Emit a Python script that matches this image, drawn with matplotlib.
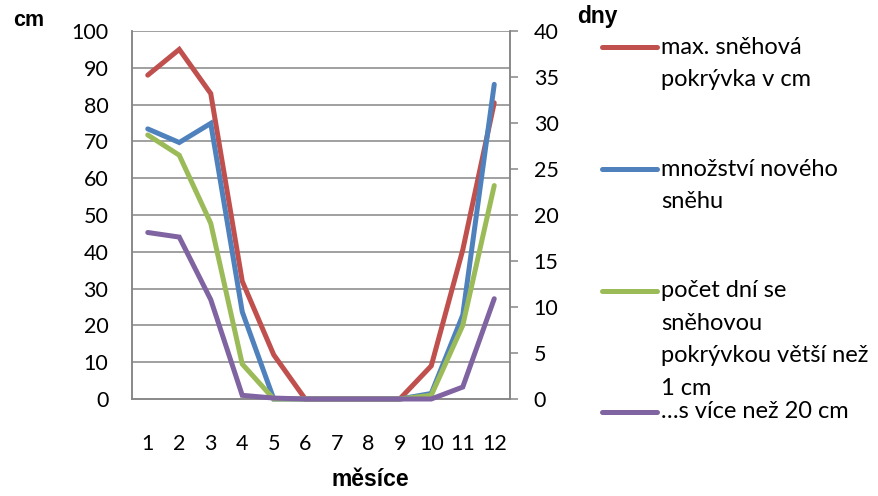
import matplotlib
matplotlib.use("Agg")
import matplotlib.pyplot as plt
from matplotlib.lines import Line2D

months = [1, 2, 3, 4, 5, 6, 7, 8, 9, 10, 11, 12]
max_snow_cm = [88, 95, 83, 32, 12, 0, 0, 0, 0, 9, 40.5, 80.5]
new_snow_cm = [73.4, 69.7, 74.9, 23.7, 0, 0, 0, 0, 0, 1.5, 22.8, 85.5]
days_over_1cm = [28.7, 26.5, 19.1, 3.8, 0, 0, 0, 0, 0, 0.4, 8.0, 23.2]
days_over_20cm = [18.1, 17.6, 10.8, 0.4, 0.1, 0, 0, 0, 0, 0, 1.3, 10.9]

labels = ["max. sněhová\npokrývka v cm",
          "množství nového\nsněhu",
          "počet dní se\nsněhovou\npokrývkou větší než\n1 cm",
          "…s více než 20 cm"]
colors = ["#C0504D", "#4F81BD", "#9BBB59", "#8064A2"]

left_ticks = list(range(0, 101, 10))
right_ticks = list(range(0, 41, 5))

W, H = 879, 496
fig = plt.figure(figsize=(W / 100, H / 100), dpi=100)
ax = fig.add_axes([132 / W, 1 - 399 / H, (510 - 132) / W, (399 - 31) / H])
ax2 = ax.twinx()

grid_c = "#868686"
lw = 3.6
font = "Lato"
tick_fs = 15.5

ax.plot(months, max_snow_cm, color=colors[0], lw=lw, solid_capstyle="round",
        solid_joinstyle="miter", clip_on=False, zorder=3)
ax.plot(months, new_snow_cm, color=colors[1], lw=lw, solid_capstyle="round",
        solid_joinstyle="miter", clip_on=False, zorder=4)
ax2.plot(months, days_over_1cm, color=colors[2], lw=lw, solid_capstyle="round",
         solid_joinstyle="miter", clip_on=False, zorder=3)
ax2.plot(months, days_over_20cm, color=colors[3], lw=lw, solid_capstyle="round",
         solid_joinstyle="miter", clip_on=False, zorder=4)

ax.set_xlim(0.5, 12.5)
ax.set_ylim(0, 100)
ax2.set_ylim(0, 40)
ax.set_xticks(months)
ax.set_xticklabels([str(m) for m in months], fontfamily=font, fontsize=tick_fs)
ax.set_yticks(left_ticks)
ax.set_yticklabels([str(v) for v in left_ticks], fontfamily=font, fontsize=tick_fs)
ax2.set_yticks(right_ticks)
ax2.set_yticklabels([str(v) for v in right_ticks], fontfamily=font, fontsize=tick_fs)

ax.tick_params(axis="x", length=0, pad=25)
ax.tick_params(axis="y", length=0, pad=17)
ax2.tick_params(axis="y", length=6, width=1.1, color=grid_c, pad=11, direction="out")

for y in left_ticks[1:]:
    ax.axhline(y, color=grid_c, lw=1.1, zorder=0)

for a in (ax, ax2):
    a.spines["top"].set_visible(False)
    for s in ("left", "right", "bottom"):
        a.spines[s].set_color(grid_c)
        a.spines[s].set_linewidth(1.1)
ax.patch.set_visible(False)

# axis titles
fig.text(13 / W, 1 - 20 / H, "cm", fontfamily="Liberation Sans", fontweight="bold",
         fontsize=15.5, va="center", ha="left")
fig.text(577 / W, 1 - 17 / H, "dny", fontfamily="Liberation Sans", fontweight="bold",
         fontsize=16.5, va="center", ha="left")
fig.text(370 / W, 1 - 480 / H, "měsíce", fontfamily="Liberation Sans", fontweight="bold",
         fontsize=16.5, va="center", ha="center")

# legend
entry_y = [47, 169, 290.5, 412]
line_gap = 32.7
for lab, c, y0 in zip(labels, colors, entry_y):
    fig.add_artist(Line2D([602 / W, 657 / W], [1 - y0 / H, 1 - y0 / H], color=c,
                          lw=3.6, solid_capstyle="round", transform=fig.transFigure))
    for k, line in enumerate(lab.split("\n")):
        fig.text(661 / W, 1 - (y0 + k * line_gap) / H, line, fontfamily=font,
                 fontsize=17, va="center", ha="left")

fig.savefig("out.png", dpi=100)
